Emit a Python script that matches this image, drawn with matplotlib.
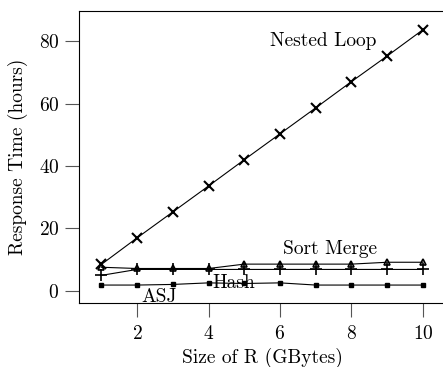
import matplotlib.pyplot as plt
import numpy as np

plt.rcParams['font.family'] = ['cmr10', 'DejaVu Serif']
plt.rcParams['axes.formatter.use_mathtext'] = True
plt.rcParams['mathtext.fontset'] = 'cm'

sizes = [1, 2, 3, 4, 5, 6, 7, 8, 9, 10]
nested_loop = [8.5, 17.0, 25.3, 33.6, 42.0, 50.3, 58.6, 67.0, 75.2, 83.6]
sort_merge = [7.6, 7.2, 7.2, 7.2, 8.6, 8.6, 8.6, 8.6, 9.2, 9.2]
hash_join = [5.0, 6.9, 6.9, 6.9, 6.9, 6.9, 6.9, 6.9, 6.9, 6.9]
asj = [1.9, 1.9, 2.1, 2.6, 2.4, 2.6, 1.9, 1.9, 1.9, 1.9]

fig = plt.figure(figsize=(4.43, 3.67), dpi=100)
ax = fig.add_axes([0.178, 0.1744, 0.829, 0.7956])

ax.plot(sizes, nested_loop, color='k', lw=0.8, marker='x', ms=7, mew=1.5)
ax.plot(sizes, sort_merge, color='k', lw=0.8, marker='^', ms=5, mfc='none', mew=1.2)
ax.plot(sizes, hash_join, color='k', lw=0.8, marker='+', ms=8, mew=1.2)
ax.plot(sizes, asj, color='k', lw=0.8, marker='s', ms=3.5)

fs = 14
ax.text(5.72, 80, 'Nested Loop', fontsize=fs, va='center')
ax.text(6.08, 13.4, 'Sort Merge', fontsize=fs, va='center')
ax.text(4.1, 2.6, 'Hash', fontsize=fs, va='center')
ax.text(2.13, -1.9, 'ASJ', fontsize=fs, va='center')

ax.set_xlim(0.37, 10.65)
ax.set_ylim(-3.84, 89.6)
ax.set_xticks([2, 4, 6, 8, 10])
ax.set_yticks([0, 20, 40, 60, 80])
ax.tick_params(direction='out', length=10, width=0.8, color='#555555',
               labelsize=fs)
ax.tick_params(axis='x', pad=6)
ax.tick_params(axis='y', pad=4)
ax.tick_params(top=False, right=False)

ax.set_xlabel('Size of R (GBytes)', fontsize=fs, labelpad=3)
ax.set_ylabel('Response Time (hours)', fontsize=fs, labelpad=8)

plt.savefig('out.png')
